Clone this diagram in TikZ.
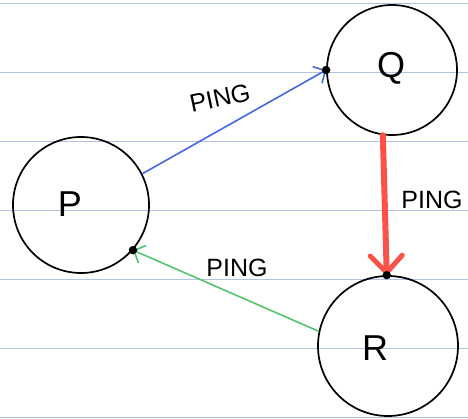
\documentclass[tikz,border=0pt]{standalone}
\usepackage{fontspec}
\setmainfont{Liberation Sans}
\usetikzlibrary{arrows.meta}
\definecolor{rulecol}{RGB}{178,194,228}
\definecolor{bluearr}{RGB}{66,104,226}
\definecolor{redarr}{RGB}{250,82,72}
\definecolor{greenarr}{RGB}{84,196,110}
\begin{document}
\begin{tikzpicture}[x=1pt,y=-1pt,
  state/.style={circle,draw,line width=1.7pt,inner sep=0pt},
  letter/.style={font=\fontsize{36}{36}\selectfont},
  rule/.style={draw=rulecol,line width=0.9pt},
  ping/.style={font=\fontsize{25}{25}\selectfont},
  thinarrow/.style={line width=1.6pt,-{Straight Barb[length=9pt,width=19pt,line width=1.6pt]}},
  thickarrow/.style={line width=6pt,line cap=round,-{Straight Barb[length=17pt,width=32pt,line width=5pt,round]}},
]
\useasboundingbox (0,0) rectangle (468,419);
\foreach \y in {3,72,141,210,279,348,417} \draw[rule] (0,\y) -- (468,\y);

\node[state,minimum size=136pt] (P) at (81,205) {};
\node[state,minimum size=130pt] (Q) at (392,70) {};
\node[state,minimum size=140pt] (R) at (388,346) {};

\node[letter] (Pt) at (70,204) {P};
\node[letter] (Qt) at (391,68) {Q};
\node[letter] (Rt) at (375,348) {R};

\coordinate (dq) at (Q.180);
\coordinate (dr) at (R.91);
\coordinate (dp) at (P.-41);

\draw[thinarrow,draw=bluearr] (P.27) -- (dq);
\draw[thickarrow,draw=redarr] (Q.-98) -- (dr);
\draw[thinarrow,draw=greenarr] (R.168) -- (dp);

\fill (dq) circle (4.2pt);
\fill (dr) circle (4.2pt);
\fill (dp) circle (4.2pt);

\node[ping,rotate=12] (l1) at (220,98) {PING};
\node[ping] (l2) at (432,200) {PING};
\node[ping] (l3) at (237,268) {PING};
\end{tikzpicture}
\end{document}
